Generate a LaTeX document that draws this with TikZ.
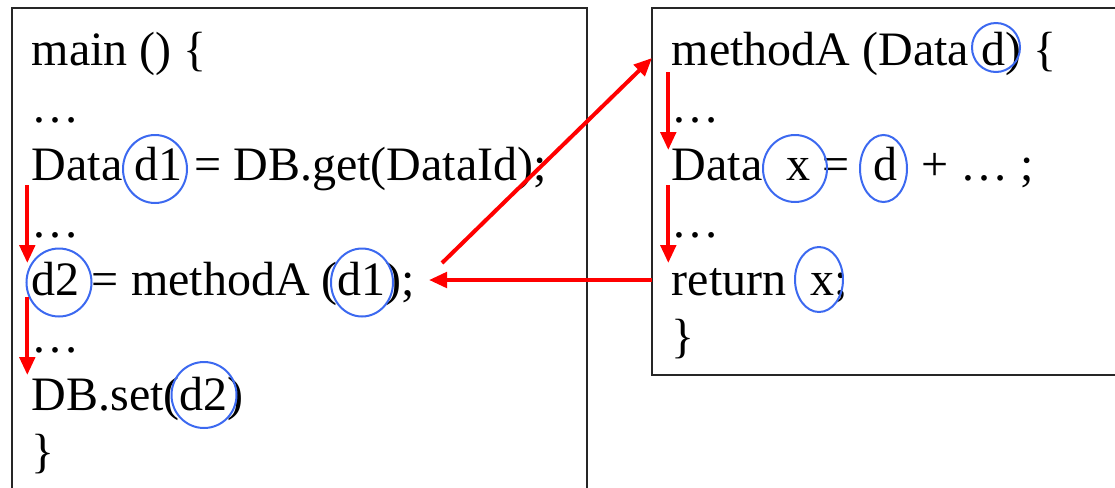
\documentclass[tikz,border=0pt]{standalone}
\usepackage{fontspec}
\setmainfont{Liberation Serif}
\usetikzlibrary{arrows.meta,shapes.geometric,fit}
\definecolor{circblue}{RGB}{60,105,240}
\definecolor{arrred}{RGB}{255,0,0}
\begin{document}
\begin{tikzpicture}[x=0.75pt,y=-0.75pt,
  codeline/.style={anchor=base west, inner sep=0pt, font=\fontsize{36pt}{43pt}\selectfont},
  box/.style={draw=black!85, line width=1.5pt, inner sep=0pt},
  ring/.style={draw=circblue, ellipse, line width=1.5pt, inner sep=0pt},
  flow/.style={draw=arrred, line width=3pt, -{Triangle[length=13.5pt,width=11.5pt]}}]
\useasboundingbox (0,0) rectangle (1115,487);
% boxes
\node[box, fit={(11.7,8) (587,500)}] (lbox) {};
\node[box, fit={(652,8) (1130,375)}] (rbox) {};
% left code
\node[codeline] (l1) at (31.7,65) {main () \{};
\node[codeline] (l2) at (31.7,122.5) {…};
\node[codeline] (l3) at (31.7,180) {Data d1 = DB.get(DataId);};
\node[codeline] (l4) at (31.7,237.5) {…};
\node[codeline] (l5) at (31.7,295) {d2 = methodA (d1);};
\node[codeline] (l6) at (31.7,352.5) {…};
\node[codeline] (l7) at (31.7,410) {DB.set(d2)};
\node[codeline] (l8) at (31.7,467.5) {\}};
% right code
\node[codeline] (r1) at (671.7,65) {methodA (Data d) \{};
\node[codeline] (r2) at (671.7,122.5) {…};
\node[codeline] (r3) at (671.7,180) {Data\ \ x = \ d\ \ + … ;};
\node[codeline] (r4) at (671.7,237.5) {…};
\node[codeline] (r5) at (671.7,295) {return\ \ x;};
\node[codeline] (r6) at (671.7,352.5) {\}};
% rings
\node[ring, minimum width=48pt, minimum height=51pt] (e1) at (155,169) {};
\node[ring, minimum width=48.75pt, minimum height=51pt] (e2) at (59,282.5) {};
\node[ring, minimum width=46.5pt, minimum height=51pt] (e3) at (362,282.5) {};
\node[ring, minimum width=48.75pt, minimum height=49.5pt] (e4) at (204,395) {};
\node[ring, minimum width=36pt, minimum height=36.75pt] (e5) at (996,47.5) {};
\node[ring, minimum width=48pt, minimum height=50.25pt] (e6) at (795,168.5) {};
\node[ring, minimum width=35.25pt, minimum height=50.25pt] (e7) at (883.5,168.5) {};
\node[ring, minimum width=36pt, minimum height=48.75pt] (e8) at (819,279.5) {};
% arrow end points
\coordinate (a1s) at (27.3,185);
\coordinate (a1e) at (27.3,263);
\coordinate (a2s) at (27.3,297);
\coordinate (a2e) at (27.3,375);
\coordinate (a3s) at (668.3,72);
\coordinate (a3e) at (668.3,150);
\coordinate (a4s) at (668.3,185);
\coordinate (a4e) at (668.3,263);
\coordinate (calls) at (442,263);
\coordinate (calle) at (652,58);
\coordinate (rets) at (652,280);
\coordinate (rete) at (429,280);
% arrows
\draw[flow] (a1s) -- (a1e);
\draw[flow] (a2s) -- (a2e);
\draw[flow] (a3s) -- (a3e);
\draw[flow] (a4s) -- (a4e);
\draw[flow] (calls) -- (calle);
\draw[flow] (rets) -- (rete);
\end{tikzpicture}
\end{document}
